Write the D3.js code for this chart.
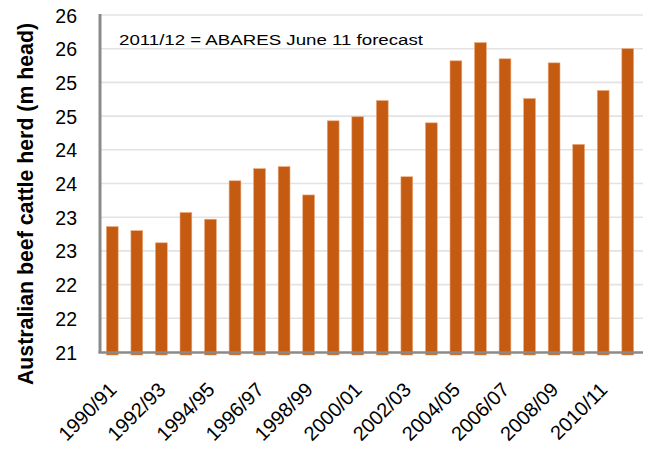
<!DOCTYPE html>
<html>
<head>
<meta charset="utf-8">
<script src="https://cdn.jsdelivr.net/npm/d3@7"></script>
<style>
  html, body { margin: 0; padding: 0; background: #ffffff; }
  svg { display: block; font-family: "Liberation Sans", Arial, sans-serif; }
</style>
</head>
<body>
<svg id="chart" width="651" height="453"></svg>
<script>
const categories = ["1990/91","1991/92","1992/93","1993/94","1994/95","1995/96","1996/97","1997/98","1998/99","1999/00","2000/01","2001/02","2002/03","2003/04","2004/05","2005/06","2006/07","2007/08","2008/09","2009/10","2010/11","2011/12"];
const herdValues = [22.86, 22.80, 22.62, 23.07, 22.97, 23.54, 23.72, 23.75, 23.33, 24.43, 24.49, 24.73, 23.60, 24.40, 25.32, 25.59, 25.35, 24.76, 25.29, 24.08, 24.88, 25.50];
const yTickValues = [21, 21.5, 22, 22.5, 23, 23.5, 24, 24.5, 25, 25.5, 26];
const yTickLabels = ["21", "22", "22", "23", "23", "24", "24", "25", "25", "26", "26"];
const xLabelCategories = ["1990/91","1992/93","1994/95","1996/97","1998/99","2000/01","2002/03","2004/05","2006/07","2008/09","2010/11"];
const yTitle = "Australian beef cattle herd (m head)";
const note = "2011/12 = ABARES June 11 forecast";

const svg = d3.select("#chart");
const plotLeft = 100, plotRight = 640, gridRight = 643, plotTop = 15, plotBottom = 352;

const x = d3.scaleBand().domain(categories).range([plotLeft, plotRight]).paddingInner(0.52).paddingOuter(0.26);
const y = d3.scaleLinear().domain([21, 26]).range([plotBottom, plotTop]);

// gridlines
svg.append("g").selectAll("line").data(yTickValues.slice(1)).join("line")
  .attr("x1", plotLeft).attr("x2", gridRight)
  .attr("y1", d => y(d)).attr("y2", d => y(d))
  .attr("stroke", "#e3e3e3").attr("stroke-width", 1.6);

// bars
svg.append("g").selectAll("rect").data(categories).join("rect")
  .attr("x", d => x(d))
  .attr("width", x.bandwidth())
  .attr("y", (d, i) => y(herdValues[i]))
  .attr("height", (d, i) => y(21) - y(herdValues[i]) + 3)
  .attr("fill", "#C55A11")
  .attr("stroke", "#E9A77A")
  .attr("stroke-width", 0.6);

// axis lines
svg.append("line").attr("x1", plotLeft).attr("x2", plotLeft).attr("y1", plotTop - 1).attr("y2", plotBottom + 1)
  .attr("stroke", "#8a8a8a").attr("stroke-width", 3);
svg.append("line").attr("x1", plotLeft - 1.5).attr("x2", gridRight).attr("y1", plotBottom + 0.5).attr("y2", plotBottom + 0.5)
  .attr("stroke", "#8a8a8a").attr("stroke-width", 2.5);

// y tick labels
const yAxis = d3.axisLeft(y).tickValues(yTickValues).tickSize(0).tickPadding(0)
  .tickFormat((d, i) => yTickLabels[i]);
const gy = svg.append("g").attr("transform", `translate(77,0)`).call(yAxis);
gy.select(".domain").remove();
gy.selectAll("text").attr("font-size", "19.5px").attr("fill", "#000")
  .attr("font-family", "'Liberation Sans', Arial, sans-serif").attr("dy", "0.36em");

// x tick labels (every other category)
svg.append("g").selectAll("text").data(xLabelCategories).join("text")
  .attr("transform", d => `translate(${x(d) + x.bandwidth() / 2 + 5.5},${plotBottom + 39}) rotate(-45)`)
  .attr("text-anchor", "end")
  .attr("font-size", "20px")
  .attr("fill", "#000")
  .text(d => d);

// y title
svg.append("text")
  .attr("transform", `translate(32.5,204) rotate(-90)`)
  .attr("text-anchor", "middle")
  .attr("font-size", "21.3px")
  .attr("font-weight", "bold")
  .attr("fill", "#000")
  .text(yTitle);

// note
svg.append("text")
  .attr("x", 119).attr("y", 45)
  .attr("font-size", "15.5px")
  .attr("fill", "#000")
  .attr("textLength", 304)
  .attr("lengthAdjust", "spacingAndGlyphs")
  .text(note);
</script>
</body>
</html>
